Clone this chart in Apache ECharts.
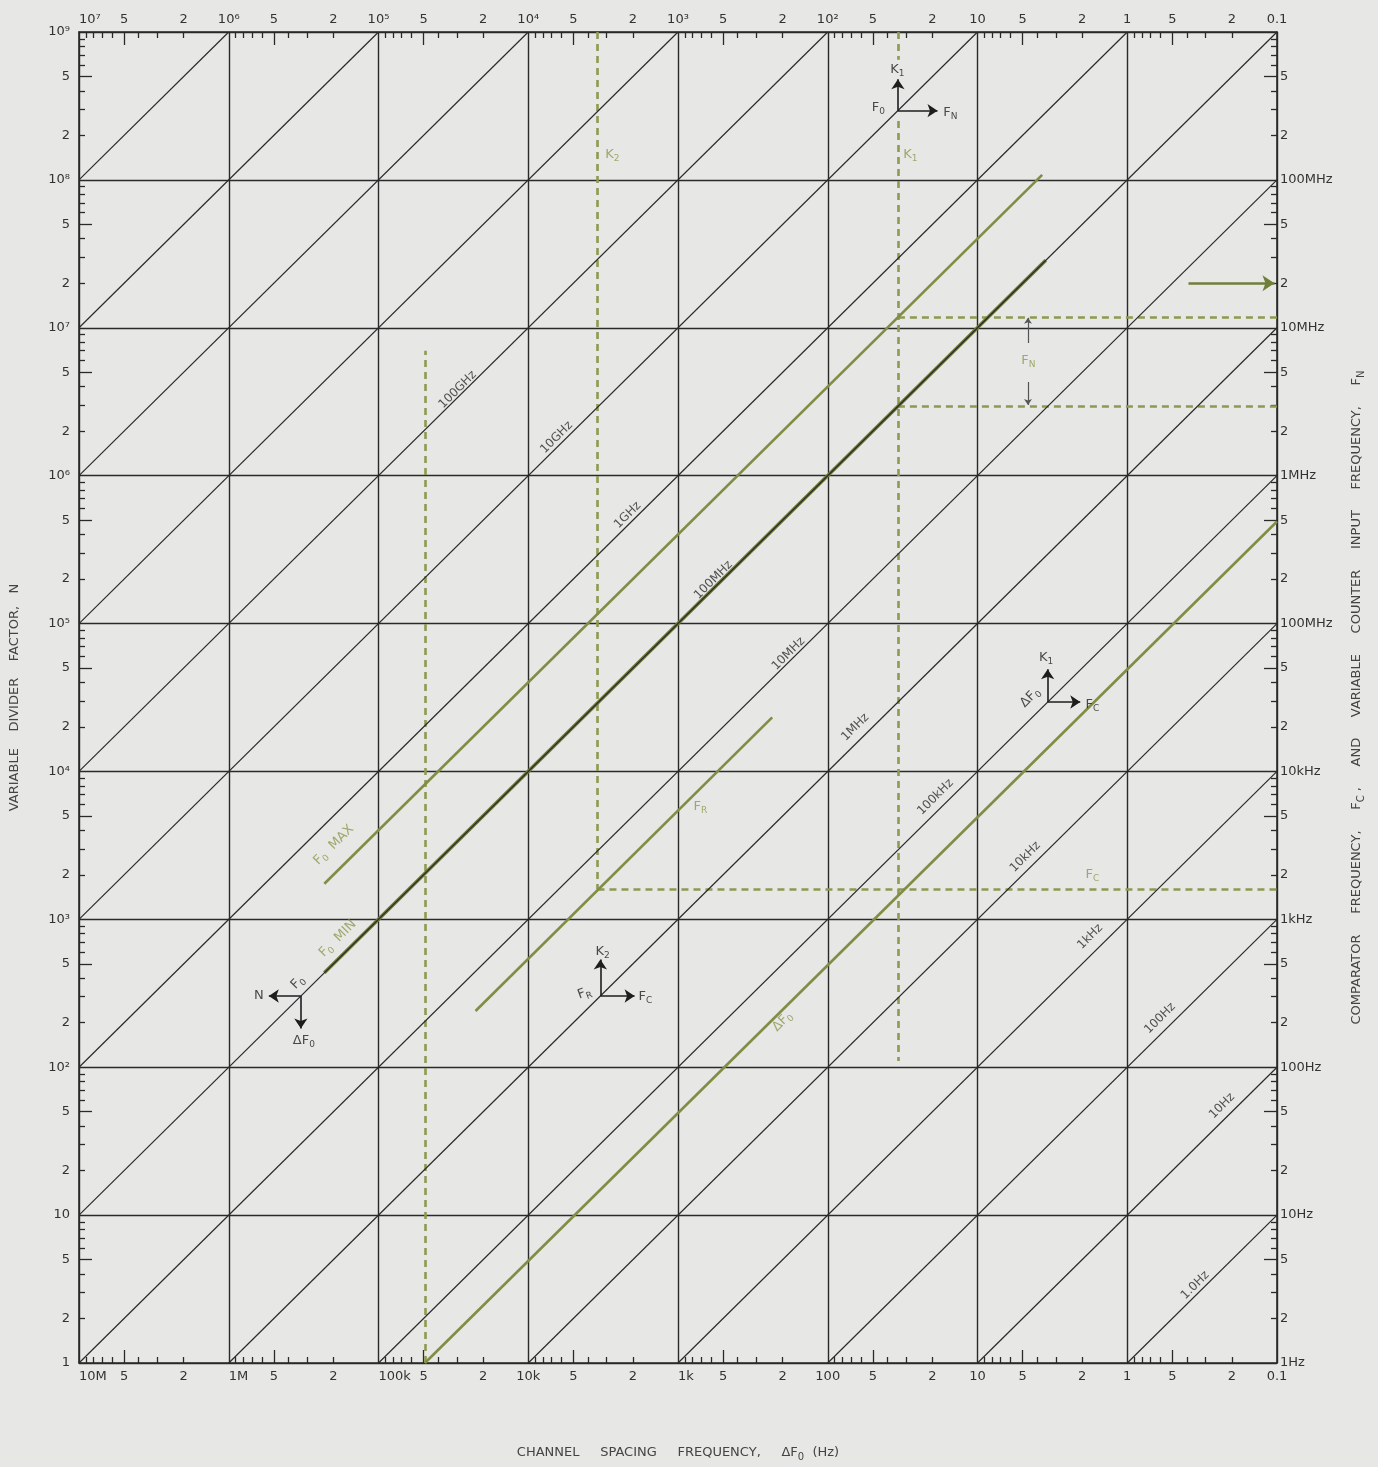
<!DOCTYPE html>
<html><head><meta charset="utf-8">
<script src="https://cdn.jsdelivr.net/npm/echarts@6/dist/echarts.min.js"></script>
<style>html,body{margin:0;padding:0;background:#e7e7e5}#c{width:1378px;height:1467px}</style>
</head><body><div id="c"></div>
<script>
// ---------------- data ----------------
const xDecades = [0.1, 1, 10, 100, 1e3, 1e4, 1e5, 1e6, 1e7];          // channel spacing ΔF0 (Hz)
const yDecades = [1, 10, 100, 1e3, 1e4, 1e5, 1e6, 1e7, 1e8, 1e9];    // divider factor N
const minorMantissas = [2, 3, 4, 6, 7, 8, 9];
const longTickMantissas = [5];
const labelMantissas = [2, 5];
const bottomDecadeLabels = ['0.1', '1', '10', '100', '1k', '10k', '100k', '1M', '10M'];
const topDecadeLabels = ['0.1', '1', '10', '10²', '10³', '10⁴', '10⁵', '10⁶', '10⁷'];
const leftDecadeLabels = ['1', '10', '10²', '10³', '10⁴', '10⁵', '10⁶', '10⁷', '10⁸', '10⁹'];
const rightDecadeLabels = ['1Hz', '10Hz', '100Hz', '1kHz', '10kHz', '100MHz', '1MHz', '10MHz', '100MHz', ''];
const bottomLeftAlignedDecades = [1e7, 1e6, 1e5, 1e3];
const topLeftAlignedDecades = [1e7];

// output-frequency diagonals F0 = N * ΔF0 (Hz)
const diagonalF0 = [1, 10, 100, 1e3, 1e4, 1e5, 1e6, 1e7, 1e8, 1e9, 1e10, 1e11, 1e12, 1e13, 1e14, 1e15];
const diagonalLabels = [
  {t: '100GHz', x: 2.96e4, y: 3.81e6}, {t: '10GHz', x: 6.47e3, y: 1.81e6},
  {t: '1GHz', x: 2.17e3, y: 5.41e5}, {t: '100MHz', x: 580, y: 1.97e5},
  {t: '10MHz', x: 183, y: 6.25e4}, {t: '1MHz', x: 65.5, y: 1.99e4},
  {t: '100kHz', x: 19.1, y: 6.7e3}, {t: '10kHz', x: 4.8, y: 2.64e3},
  {t: '1kHz', x: 1.77, y: 764}, {t: '100Hz', x: 0.604, y: 214},
  {t: '10Hz', x: 0.233, y: 54.7}, {t: '1.0Hz', x: 0.352, y: 3.35}
];

// green solid lines [ΔF0, N]
const f0MaxLine = [[2.3e5, 1.74e3], [3.7, 1.08e8]];
const f0MinLine = [[2.3e5, 435], [3.5, 2.86e7]];
const fRLine = [[2.25e4, 240], [235, 2.32e4]];
const dF0Line = [[4.9e4, 1], [0.1, 4.9e5]];

// green dashed construction lines
const dashedLines = [
  [[4.9e4, 1], [4.9e4, 7e6]],
  [[3.45e3, 1e9], [3.45e3, 1.6e3]],
  [[3.45e3, 1.6e3], [0.1, 1.6e3]],
  [[34, 1e9], [34, 6.5e8]],
  [[34, 2.5e8], [34, 110]],
  [[34, 1.18e7], [0.1, 1.18e7]],
  [[34, 2.93e6], [0.1, 2.93e6]]
];

// arrows
const greenArrow = [[0.39, 2e7], [0.104, 2e7]];
const fnArrows = [[[4.6, 7.9e6], [4.6, 1.17e7]], [[4.6, 4.3e6], [4.6, 3.0e6]]];
const diagramArrows = [
  [[34, 2.94e8], [34, 4.8e8]], [[34, 2.94e8], [18.5, 2.94e8]],
  [[3.4, 2.95e4], [3.4, 4.9e4]], [[3.4, 2.95e4], [2.06, 2.95e4]],
  [[3.3e3, 303], [3.3e3, 535]], [[3.3e3, 303], [1.95e3, 303]],
  [[3.3e5, 303], [5.4e5, 303]], [[3.3e5, 303], [3.3e5, 183]]
];
const diagramLabels = [
  {t: 'K{s|1}', x: 34.3, y: 5.55e8, r: 0}, {t: 'F{s|0}', x: 45.9, y: 3.08e8, r: 0}, {t: 'F{s|N}', x: 15.2, y: 2.85e8, r: 0},
  {t: 'K{s|1}', x: 3.48, y: 5.88e4, r: 0}, {t: 'ΔF{s|0}', x: 4.45, y: 3.16e4, r: 45}, {t: 'F{s|C}', x: 1.71, y: 2.84e4, r: 0},
  {t: 'K{s|2}', x: 3.19e3, y: 605, r: 0}, {t: 'F{s|R}', x: 4.21e3, y: 316, r: 20}, {t: 'F{s|C}', x: 1.65e3, y: 301, r: 0},
  {t: 'N', x: 6.3e5, y: 306, r: 0}, {t: 'F{s|0}', x: 3.46e5, y: 374, r: 45}, {t: 'ΔF{s|0}', x: 3.15e5, y: 152, r: 0}
];
const greenLabels = [
  {t: 'K{s|2}', x: 2.74e3, y: 1.48e8, r: 0}, {t: 'K{s|1}', x: 28.1, y: 1.48e8, r: 0},
  {t: 'F{s|0}  MAX', x: 1.99e5, y: 3.18e3, r: 45}, {t: 'F{s|0}  MIN', x: 1.87e5, y: 741, r: 45},
  {t: 'F{s|R}', x: 708, y: 5.74e3, r: 0}, {t: 'ΔF{s|0}', x: 201, y: 204, r: 45},
  {t: 'F{s|C}', x: 1.71, y: 2.0e3, r: 0}, {t: 'F{s|N}', x: 4.58, y: 5.98e6, r: 0}
];

// ---------------- build ----------------
const X_MIN = 0.1, X_MAX = 1e7, Y_MIN = 1, Y_MAX = 1e9;
const INK = '#2a2a2a', GREEN = '#7f8e44', GREEN_D = '#8c9a52', TXT = '#333';
const FONT = 'DejaVu Sans';

function expand(decs, mants) {
  const out = [];
  decs.forEach(d => mants.forEach(m => out.push(+(d * m).toPrecision(6))));
  return out;
}
function fmt(v, arr, off) {
  const l = Math.log10(v);
  let e = Math.floor(l + 1e-6);
  let m = Math.round(v / Math.pow(10, e));
  if (m >= 10) { m = 1; e++; }
  return m === 1 ? arr[e + off] : String(m);
}
const xMinor = expand(xDecades.slice(0, -1), minorMantissas);
const xLong = expand(xDecades.slice(0, -1), longTickMantissas);
const x25 = expand(xDecades.slice(0, -1), labelMantissas);
const yMinor = expand(yDecades.slice(0, -1), minorMantissas);
const yLong = expand(yDecades.slice(0, -1), longTickMantissas);
const y25 = expand(yDecades.slice(0, -1), labelMantissas);

const bottomCentered = x25.concat(xDecades.filter(d => bottomLeftAlignedDecades.indexOf(d) < 0));
const topCentered = x25.concat(xDecades.filter(d => topLeftAlignedDecades.indexOf(d) < 0));
const yAllLabels = yDecades.concat(y25);

const lblStyle = {show: true, color: TXT, fontFamily: FONT, fontSize: 13};
const axLine = {show: true, lineStyle: {color: INK, width: 1.6}};

function xAx(o) {
  return Object.assign({type: 'log', logBase: 10, min: X_MIN, max: X_MAX, inverse: true, gridIndex: 0,
    axisLine: {show: false}, axisTick: {show: false}, axisLabel: {show: false}, splitLine: {show: false}}, o);
}
function yAx(o) {
  return Object.assign({type: 'log', logBase: 10, min: Y_MIN, max: Y_MAX, gridIndex: 0,
    axisLine: {show: false}, axisTick: {show: false}, axisLabel: {show: false}, splitLine: {show: false}}, o);
}
const shortTick = (vals) => ({show: true, inside: true, length: 6, customValues: vals, lineStyle: {color: INK, width: 1.3}});
const longTick = (vals) => ({show: true, inside: true, length: 13, customValues: vals, lineStyle: {color: INK, width: 1.3}});
const subRich = {s: {fontSize: 9, padding: [8, 0, 0, 0]}};
const titleRich = {s: {fontSize: 10, padding: [9, 0, 0, 0]}};

const xAxes = [
  xAx({position: 'bottom', axisLine: axLine, axisTick: shortTick(xMinor),
    axisLabel: Object.assign({}, lblStyle, {customValues: bottomCentered, margin: 7, formatter: v => fmt(v, bottomDecadeLabels, 1)}),
    name: 'CHANNEL     SPACING     FREQUENCY,     ΔF{s|0}  (Hz)', nameLocation: 'middle', nameGap: 80,
    nameTextStyle: {color: '#444', fontFamily: FONT, fontSize: 13, rich: titleRich}}),
  xAx({position: 'bottom', axisTick: longTick(xLong),
    axisLabel: Object.assign({}, lblStyle, {customValues: bottomLeftAlignedDecades, align: 'left', margin: 7, formatter: v => fmt(v, bottomDecadeLabels, 1)})}),
  xAx({position: 'top', axisLine: axLine, axisTick: shortTick(xMinor),
    axisLabel: Object.assign({}, lblStyle, {customValues: topCentered, margin: 6, formatter: v => fmt(v, topDecadeLabels, 1)})}),
  xAx({position: 'top', axisTick: longTick(xLong),
    axisLabel: Object.assign({}, lblStyle, {customValues: topLeftAlignedDecades, align: 'left', margin: 6, formatter: v => fmt(v, topDecadeLabels, 1)})}),
  xAx({position: 'bottom', axisTick: {show: false, customValues: xDecades},
    splitLine: {show: true, lineStyle: {color: INK, width: 1.4}}})
];
const yAxes = [
  yAx({position: 'left', axisLine: axLine, axisTick: shortTick(yMinor),
    axisLabel: Object.assign({}, lblStyle, {customValues: yAllLabels, margin: 9, formatter: v => fmt(v, leftDecadeLabels, 0)}),
    name: 'VARIABLE    DIVIDER    FACTOR,   N', nameLocation: 'middle', nameGap: 58, nameRotate: 90,
    nameTextStyle: {color: '#444', fontFamily: FONT, fontSize: 13}}),
  yAx({position: 'left', axisTick: longTick(yLong)}),
  yAx({position: 'right', axisLine: axLine, axisTick: shortTick(yMinor),
    axisLabel: Object.assign({}, lblStyle, {customValues: yAllLabels, margin: 3, formatter: v => fmt(v, rightDecadeLabels, 0)}),
    name: 'COMPARATOR     FREQUENCY,     F{s|C} ,     AND     VARIABLE     COUNTER     INPUT     FREQUENCY,     F{s|N}',
    nameLocation: 'middle', nameGap: 70, nameRotate: 90,
    nameTextStyle: {color: '#444', fontFamily: FONT, fontSize: 13, rich: titleRich}}),
  yAx({position: 'right', axisTick: longTick(yLong)}),
  yAx({position: 'left', axisTick: {show: false, customValues: yDecades},
    splitLine: {show: true, lineStyle: {color: INK, width: 1.4}}})
];

function diagEnds(f) {
  const nLo = Math.max(Y_MIN, f / X_MAX), nHi = Math.min(Y_MAX, f / X_MIN);
  return [[f / nLo, nLo], [f / nHi, nHi]];
}
function linesSeries(coordsList, style, extra) {
  return Object.assign({type: 'lines', coordinateSystem: 'cartesian2d', xAxisIndex: 0, yAxisIndex: 0,
    polyline: false, silent: true, symbol: ['none', 'none'],
    lineStyle: Object.assign({opacity: 1, curveness: 0}, style),
    data: coordsList.map(c => ({coords: c}))}, extra || {});
}
function labelSeries(items, color, size, z, defRot) {
  return {type: 'scatter', xAxisIndex: 0, yAxisIndex: 0, symbolSize: 2, silent: true, z: z || 5,
    itemStyle: {color: 'rgba(0,0,0,0)'},
    labelLayout: {hideOverlap: false},
    data: items.map(d => ({name: d.t, value: [d.x, d.y],
      label: {show: true, position: 'inside', rotate: (d.r !== undefined ? d.r : (defRot || 0)), formatter: '{b}', color: color,
        fontFamily: FONT, fontSize: size, rich: subRich}}))};
}

const option = {
  animation: false,
  backgroundColor: '#e7e7e5',
  textStyle: {fontFamily: FONT},
  grid: {left: 78, right: 101, top: 32, bottom: 99, containLabel: false},
  xAxis: xAxes,
  yAxis: yAxes,
  series: [
    linesSeries(dashedLines, {color: GREEN_D, width: 2.6, type: [7, 5]}, {z: 2}),
    linesSeries([f0MaxLine, fRLine, dF0Line], {color: GREEN, width: 2.6}, {z: 3}),
    linesSeries([f0MinLine], {color: '#6d7b38', width: 3.6}, {z: 3}),
    linesSeries(diagonalF0.map(diagEnds), {color: INK, width: 1.2}, {z: 4}),
    linesSeries([greenArrow], {color: '#6f7e38', width: 2.6}, {z: 5, symbol: ['none', 'arrow'], symbolSize: 12}),
    linesSeries(fnArrows, {color: '#555', width: 1.2}, {z: 5, symbol: ['none', 'arrow'], symbolSize: 6}),
    linesSeries(diagramArrows, {color: '#1e1e1e', width: 1.6}, {z: 5, symbol: ['none', 'arrow'], symbolSize: 10}),
    labelSeries(diagonalLabels, '#2a2a2a', 12, 6, 45),
    labelSeries(diagramLabels, '#222', 13, 6, 0),
    labelSeries(greenLabels, '#8a9a4c', 13, 6, 0)
  ]
};
const chart = echarts.init(document.getElementById('c'), null, {renderer: 'canvas'});
chart.setOption(option);
</script>
</body></html>
